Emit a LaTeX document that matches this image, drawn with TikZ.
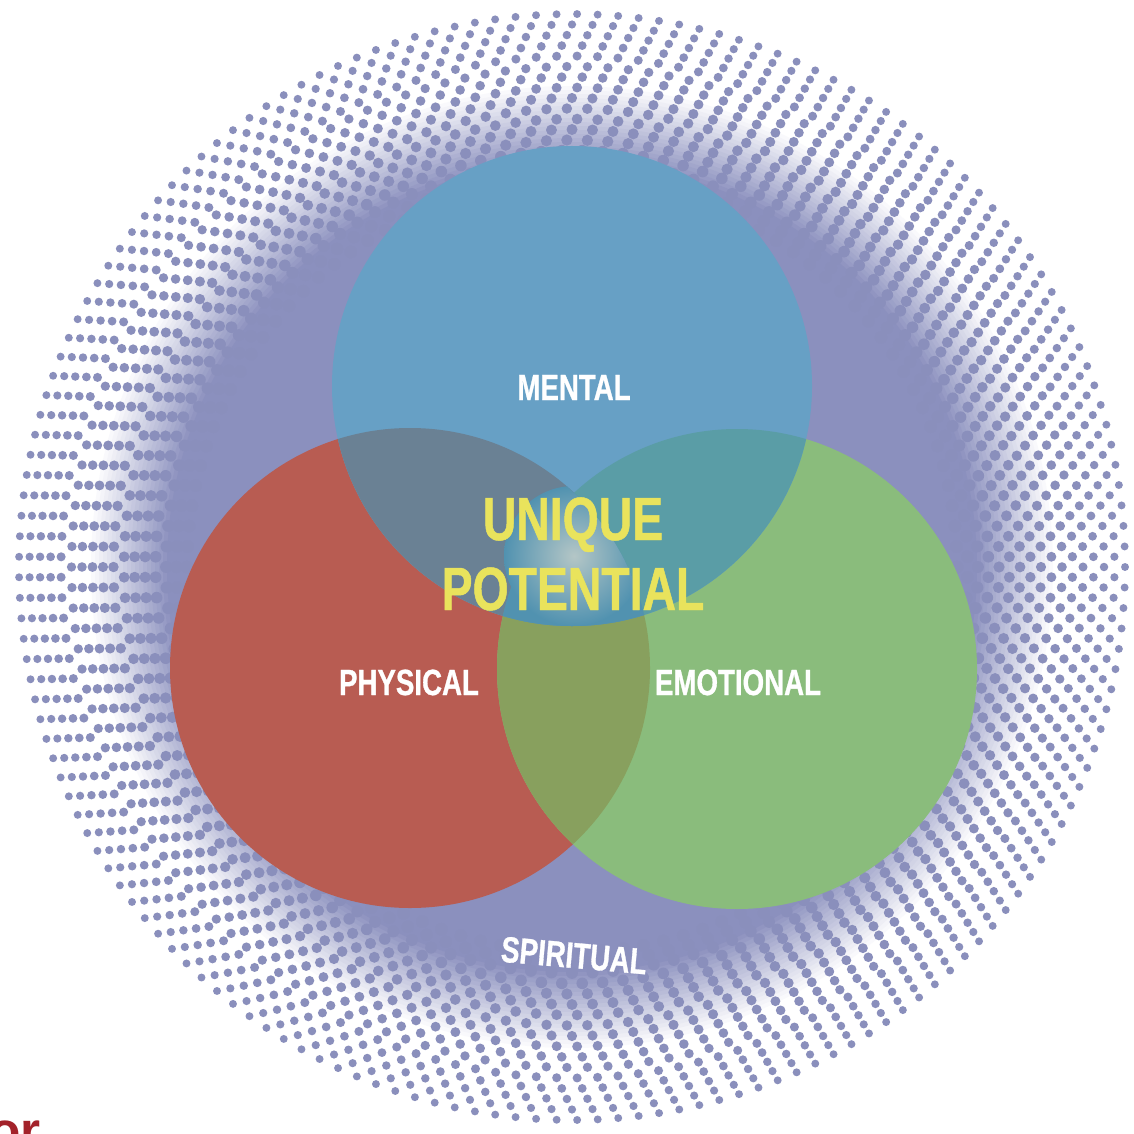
\documentclass[tikz,border=0pt]{standalone}
\usepackage{fontspec}
\usepackage{tikz}
\newfontfamily\vennfont{Liberation Sans}[FakeStretch=0.76,FakeBold=0.8]
\newfontfamily\plainfont{Liberation Sans}
\definecolor{lavender}{HTML}{8B90BE}
\definecolor{dotcol}{HTML}{8A8FBC}
\definecolor{mentblue}{HTML}{67A0C5}
\definecolor{physred}{HTML}{B85C52}
\definecolor{emogreen}{HTML}{8ABC7C}
\definecolor{slate}{HTML}{6A8194}
\definecolor{teal}{HTML}{5A9DA6}
\definecolor{olive}{HTML}{88A05E}
\definecolor{core}{HTML}{5192B0}
\definecolor{glow}{HTML}{B4C6C6}
\definecolor{uniq}{HTML}{E9E35C}
\definecolor{orred}{HTML}{A3222A}

\begin{document}
\begin{tikzpicture}
    [
      x=0.5pt, y=-0.5pt,
      label/.style = {text=white, font=\vennfont\bfseries\fontsize{18.2}{20}\selectfont, anchor=base, inner sep=0pt},
      big/.style = {text=uniq, font=\vennfont\bfseries\fontsize{30.5}{32}\selectfont, anchor=base, inner sep=0pt},
    ]
    \useasboundingbox (0,0) rectangle (1134,1134);
    \fill[white] (0,0) rectangle (1134,1134);

    \coordinate (o) at (572,567);
    \coordinate (m) at (572,386);
    \coordinate (p) at (410,668);
    \coordinate (e) at (737,669);

    % soft halo behind the dots
    \foreach \i in {0,...,20}{
      \pgfmathtruncatemacro\pc{5*\i}
      \fill[lavender!\pc!white] (o) circle ({485-4*\i});
    }
    % halftone ring
    \foreach \k in {0,...,16}{
      \pgfmathsetmacro\rr{385+10.5*\k}
      \pgfmathtruncatemacro\nn{round(2*pi*\rr/20.5)}
      \pgfmathsetmacro\dd{6.2-0.14*\k}
      \pgfmathsetmacro\off{mod(\k,2)*0.5}
      \foreach \j in {1,...,\nn}{
        \pgfmathsetmacro\ang{(\j+\off)/\nn*360}
        \fill[dotcol] (o) ++(\ang:\rr) circle (\dd);
      }
    }

    % the three circles
    \fill[physred] (p) circle (240);
    \fill[emogreen] (e) circle (240);
    \begin{scope}
      \clip (p) circle (240);
      \fill[olive] (e) circle (240);
    \end{scope}
    \fill[mentblue] (m) circle (240);
    \begin{scope}
      \clip (m) circle (240);
      \fill[slate] (p) circle (240);
      \fill[teal] (e) circle (240);
      \clip (p) circle (240);
      \fill[core] (e) circle (240);
      \shade[inner color=glow, outer color=core] (574,556) circle (70);
    \end{scope}

    \node[label] (mental) at (574,400) {MENTAL};
    \node[label] (physical) at (409,695) {PHYSICAL};
    \node[label] (emotional) at (738,695) {EMOTIONAL};
    \node[label, rotate=-5] (spiritual) at (573,968) {SPIRITUAL};
    \node[big] (unique) at (573,540) {UNIQUE};
    \node[big] (potential) at (573,610) {POTENTIAL};
    \node[text=orred, font=\plainfont\bfseries\fontsize{25.7}{28}\selectfont, anchor=base west, inner sep=0pt] (or) at (-11,1148) {or};
\end{tikzpicture}
\end{document}
